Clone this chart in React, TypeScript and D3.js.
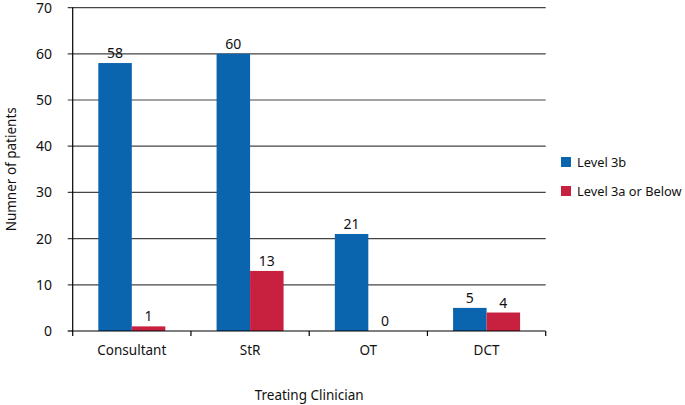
import React from "react";
import * as d3 from "d3";

const categories = ["Consultant", "StR", "OT", "DCT"];
const seriesNames = ["Level 3b", "Level 3a or Below"];
const level3b = [58, 60, 21, 5];
const level3aOrBelow = [1, 13, 0, 4];
const yTicks = [0, 10, 20, 30, 40, 50, 60, 70];
const colors = ["#0b65ae", "#c8203f"];

export default function App() {
  const W = 685, H = 405;
  const left = 72.7, right = 545.7, top = 7.6, bottom = 331;
  const font = "'Noto Sans', 'Open Sans', sans-serif";
  const x = d3.scaleBand<string>().domain(categories).range([left, right]);
  const y = d3.scaleLinear().domain([0, 70]).range([bottom, top]);
  const barW = 33.5;
  const series = [level3b, level3aOrBelow];
  const boundaries = [left, ...categories.map((c) => (x(c) as number) + x.bandwidth())];

  return (
    <svg width={W} height={H} style={{ position: "absolute", left: 0, top: 0 }} fontFamily={font}>
      <rect width={W} height={H} fill="#fff" />
      {yTicks.map((t) => (
        <g key={t}>
          <line x1={left - 5} x2={t === 0 ? left : right} y1={y(t)} y2={y(t)} stroke={t === 0 ? "#000" : "#444"} strokeWidth={1.2} />
          <text x={52} y={y(t)} dy="0.36em" textAnchor="end" fontSize={14} fill="#111">{t}</text>
        </g>
      ))}
      {categories.map((c, i) =>
        series.map((s, j) => {
          const cx = (x(c) as number) + x.bandwidth() / 2;
          const bx = cx - barW + j * barW;
          const v = s[i];
          return (
            <g key={c + j}>
              {v > 0 && <rect x={bx} y={y(v)} width={barW} height={bottom - y(v)} fill={colors[j]} />}
              <text x={bx + barW / 2} y={y(v) - 5} textAnchor="middle" fontSize={14} fill="#111">{v}</text>
            </g>
          );
        })
      )}
      <line x1={left} x2={right} y1={bottom} y2={bottom} stroke="#000" strokeWidth={1.2} />
      <line x1={left} x2={left} y1={top} y2={bottom} stroke="#000" strokeWidth={1.2} />
      {boundaries.map((b, i) => (
        <line key={i} x1={b} x2={b} y1={bottom} y2={bottom + 5} stroke="#000" strokeWidth={1.2} />
      ))}
      {categories.map((c) => (
        <text key={c} x={(x(c) as number) + x.bandwidth() / 2} y={355} textAnchor="middle" fontSize={13.5} fill="#111">{c}</text>
      ))}
      <text x={(left + right) / 2} y={400} textAnchor="middle" fontSize={13.5} fill="#111">Treating Clinician</text>
      <text transform={`translate(16,${(top + bottom) / 2}) rotate(-90)`} textAnchor="middle" fontSize={13.5} fill="#111">Numner of patients</text>
      {seriesNames.map((n, j) => (
        <g key={n}>
          <rect x={561} y={157 + j * 29} width={10} height={10} fill={colors[j]} />
          <text x={577} y={162 + j * 29} dy="0.36em" fontSize={12.8} fill="#111">{n}</text>
        </g>
      ))}
    </svg>
  );
}
